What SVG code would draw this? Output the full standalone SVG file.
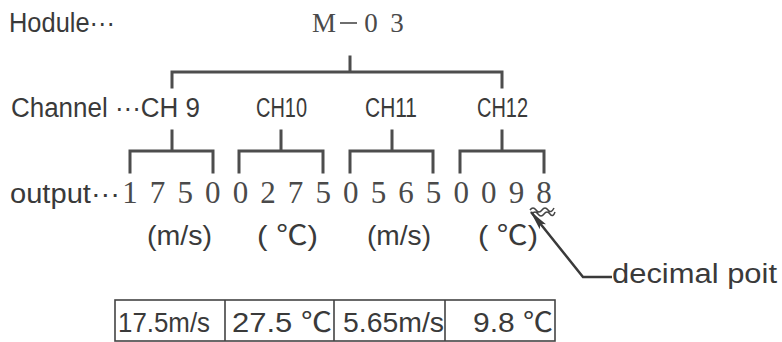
<svg xmlns="http://www.w3.org/2000/svg" width="782" height="342" viewBox="0 0 782 342">
<style>
.t{font-family:"Liberation Sans","Noto Sans CJK JP",sans-serif;font-size:27px;fill:#3a3a3a}
.s{font-family:"Liberation Serif","Noto Sans CJK JP",serif;fill:#4a4a4a}
.d{font-size:31px;text-anchor:middle}
.ln{stroke:#4d4d4d;stroke-width:3;fill:none;stroke-linecap:square}
.bx{stroke:#444;stroke-width:1.6;fill:none}
</style>
<defs>
<marker id="ah" markerWidth="20" markerHeight="10" refX="19" refY="5" orient="auto" markerUnits="userSpaceOnUse">
<path d="M0,1 L20,5 L0,9 L4,5 Z" fill="#3a3a3a"/>
</marker>
</defs>
<rect width="782" height="342" fill="#fff"/>

<g id="module-label"><text class="t" x="9" y="32" textLength="106" lengthAdjust="spacingAndGlyphs">Hodule···</text></g>
<g id="module">
<text class="s" font-size="27" x="312" y="32" textLength="24" lengthAdjust="spacingAndGlyphs">M</text>
<line x1="340" y1="23" x2="357" y2="23" stroke="#4a4a4a" stroke-width="1.6"/>
<text class="s" font-size="27" x="371" y="32" text-anchor="middle">0</text>
<text class="s" font-size="27" x="397" y="32" text-anchor="middle">3</text>
</g>

<g id="channel-label"><text class="t" x="11" y="117" textLength="189" lengthAdjust="spacingAndGlyphs">Channel ···CH 9</text></g>
<g id="ch10"><text class="t" x="256" y="117" textLength="51" lengthAdjust="spacingAndGlyphs">CH10</text></g>
<g id="ch11"><text class="t" x="365" y="117" textLength="52" lengthAdjust="spacingAndGlyphs">CH11</text></g>
<g id="ch12"><text class="t" x="477" y="117" textLength="51" lengthAdjust="spacingAndGlyphs">CH12</text></g>

<g id="output-label"><text class="t" x="10" y="203" textLength="110" lengthAdjust="spacingAndGlyphs">output···</text></g>
<g id="output-digits" class="s d">
<text x="130" y="203">1</text>
<text x="157.6" y="203">7</text>
<text x="185.2" y="203">5</text>
<text x="212.8" y="203">0</text>
<text x="240.4" y="203">0</text>
<text x="268" y="203">2</text>
<text x="295.6" y="203">7</text>
<text x="323.2" y="203">5</text>
<text x="350.8" y="203">0</text>
<text x="378.4" y="203">5</text>
<text x="406" y="203">6</text>
<text x="433.6" y="203">5</text>
<text x="461.2" y="203">0</text>
<text x="488.8" y="203">0</text>
<text x="516.4" y="203">9</text>
<text x="544" y="203">8</text>
</g>

<g id="units">
<text class="t" x="147" y="245" textLength="65" lengthAdjust="spacingAndGlyphs">(m/s)</text>
<text class="t" x="257" y="245" textLength="61" lengthAdjust="spacingAndGlyphs">( ℃)</text>
<text class="t" x="367" y="245" textLength="64" lengthAdjust="spacingAndGlyphs">(m/s)</text>
<text class="t" x="478" y="245" textLength="60" lengthAdjust="spacingAndGlyphs">( ℃)</text>
</g>

<g id="decimal-point-label"><text class="t" x="612" y="283" textLength="165" lengthAdjust="spacingAndGlyphs">decimal poit</text></g>

<g id="connectors">
<path class="ln" d="M350,57 V72 M172,72 H502 M172,72 V87 M502,72 V87"/>
<path class="ln" d="M172,131 V151 M130,151 H213 M130,151 V172 M213,151 V172"/>
<path class="ln" d="M281,131 V151 M239,151 H323 M239,151 V172 M323,151 V172"/>
<path class="ln" d="M392,131 V151 M350,151 H433 M350,151 V172 M433,151 V172"/>
<path class="ln" d="M502,131 V151 M460,151 H544 M460,151 V172 M544,151 V172"/>
<path d="M530,210 q3,-4 6,0 t6,0 t6,0 t6,-2 M532,214 q3,-4 6,0 t6,0 t6,0 t5,-2" stroke="#444" stroke-width="1.5" fill="none"/>
<path d="M612,277 H583 L531,212" stroke="#3a3a3a" stroke-width="2.5" fill="none" marker-end="url(#ah)"/>
</g>

<g id="table">
<rect class="bx" x="115" y="300" width="440" height="41"/>
<path class="bx" d="M225,300 V341 M334,300 V341 M445,300 V341"/>
<text class="t" x="118" y="332" textLength="92" lengthAdjust="spacingAndGlyphs">17.5m/s</text>
<text class="t" x="232" y="332" textLength="100" lengthAdjust="spacingAndGlyphs">27.5 ℃</text>
<text class="t" x="343" y="332" textLength="101" lengthAdjust="spacingAndGlyphs">5.65m/s</text>
<text class="t" x="473" y="332" textLength="80" lengthAdjust="spacingAndGlyphs">9.8 ℃</text>
</g>
</svg>
